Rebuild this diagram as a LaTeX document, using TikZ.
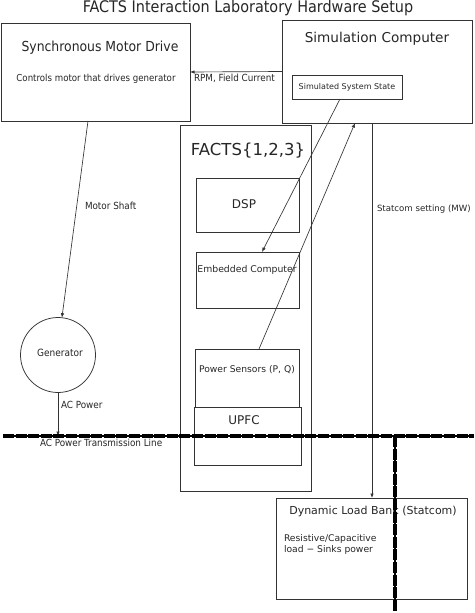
\documentclass[tikz,border=0pt]{standalone}
\usepackage{fontspec}
\setmainfont{DejaVu Sans}
\newfontfamily\condfont{DejaVu Sans Condensed}
\usetikzlibrary{positioning,calc,arrows.meta}

\begin{document}
\begin{tikzpicture}[x=1pt,y=-1pt,every node/.style={outer sep=0pt,inner sep=0pt},
		block/.style={draw=black!80,line width=0.75pt},
		conn/.style={draw=black!80,line width=0.65pt,-{Latex[length=4.5pt,width=3.5pt]}},
		lbl/.style={text=black!85,font=\condfont\fontsize{9.8}{11}\selectfont},
		busbar/.style={line width=3.6pt,dash pattern=on 11pt off 1.6pt},
		buscore/.style={line width=1.4pt}
		]
		\useasboundingbox (0,0) rectangle (474,613);

		% boxes
		\node[block,anchor=north west,minimum width=189pt,minimum height=98pt] (drive) at (1,23) {};
		\node[block,anchor=north west,minimum width=190pt,minimum height=103pt] (simc) at (282,20) {};
		\node[block,anchor=north west,minimum width=110pt,minimum height=24pt] (sss) at (292,75) {};
		\node[block,anchor=north west,minimum width=131pt,minimum height=366pt] (facts) at (180,125) {};
		\node[block,anchor=north west,minimum width=103pt,minimum height=54pt] (dsp) at (196,178) {};
		\node[block,anchor=north west,minimum width=103pt,minimum height=56pt] (emb) at (196,252) {};
		\node[block,anchor=north west,minimum width=104pt,minimum height=58pt] (sens) at (195,349) {};
		\node[block,anchor=north west,minimum width=107pt,minimum height=58pt] (upfc) at (194,407) {};
		\node[block,anchor=north west,minimum width=191pt,minimum height=101pt] (load) at (276,498) {};
		\node[block,circle,minimum size=75pt] (gen) at (58,355) {};

		% texts
		\node[lbl,font=\condfont\fontsize{16}{18}\selectfont] (title) at (248,8) {FACTS Interaction Laboratory Hardware Setup};
		\node[lbl,font=\condfont\fontsize{13.8}{15}\selectfont] (driveT) at (100,48) {Synchronous Motor Drive};
		\node[lbl,font=\condfont\fontsize{9.6}{11}\selectfont] (driveS) at (96,79) {Controls motor that drives generator};
		\node[lbl,font=\fontsize{13.6}{15}\selectfont] (simcT) at (377,39) {Simulation Computer};
		\node[lbl,font=\fontsize{8}{9}\selectfont] (sssT) at (347,87) {Simulated System State};
		\node[lbl,font=\fontsize{16.5}{18}\selectfont] (factsT) at (248,151) {FACTS\{1,2,3\}};
		\node[lbl,font=\fontsize{12}{14}\selectfont] (dspT) at (244,204) {DSP};
		\node[lbl,font=\fontsize{9.3}{11}\selectfont] (embT) at (247,270) {Embedded Computer};
		\node[lbl,font=\fontsize{9.2}{11}\selectfont] (sensT) at (247,370) {Power Sensors (P, Q)};
		\node[lbl,font=\fontsize{12}{14}\selectfont] (upfcT) at (244,420) {UPFC};
		\node[lbl,font=\condfont\fontsize{10}{11}\selectfont] (genT) at (60,353) {Generator};
		\node[lbl,font=\fontsize{11}{13}\selectfont] (loadT) at (373,511) {Dynamic Load Bank (Statcom)};
		\node[lbl,font=\fontsize{9.2}{11}\selectfont,align=left,anchor=north west] (loadS) at (284,535) {Resistive/Capacitive\\load − Sinks power};

		% connectors
		\draw[conn] (simc.west) -- (drive.east)
			node[lbl,anchor=north west] (rpm) at ($(drive.east)+(4,2)$) {RPM, Field Current};
		\draw[conn] ($(drive.south west)+(87,0)$) -- (gen.84)
			node[lbl,anchor=west] (shaft) at (85,206) {Motor Shaft};
		\coordinate (busL) at (3,436);
		\coordinate (busR) at (474,436);
		\coordinate (tap) at (395,436);
		\coordinate (tapEnd) at (395,611);
		\draw[conn] (gen.south) -- (gen.south |- busL)
			node[lbl,anchor=west] (acp) at (61,405) {AC Power};
		\draw[conn] ($(sss.south west)+(48,0)$) -- ($(emb.north west)+(66,0)$);
		\draw[conn] ($(sens.north west)+(64,0)$) -- ($(simc.south west)+(73,0)$);
		\draw[conn] ($(simc.south west)+(90,0)$) coordinate (stc) -- (stc |- load.north)
			node[lbl,font=\fontsize{8.6}{10}\selectfont,anchor=west] (stcT) at (377,209) {Statcom setting (MW)};

		% transmission line
		\draw[buscore] (busL) -- (busR);
		\draw[busbar] (busL) -- (busR);
		\draw[buscore] (tap) -- (tapEnd);
		\draw[busbar] (tap) -- (tapEnd);
		\node[lbl,anchor=west] (busT) at (40,443) {AC Power Transmission Line};
	\end{tikzpicture}
\end{document}
